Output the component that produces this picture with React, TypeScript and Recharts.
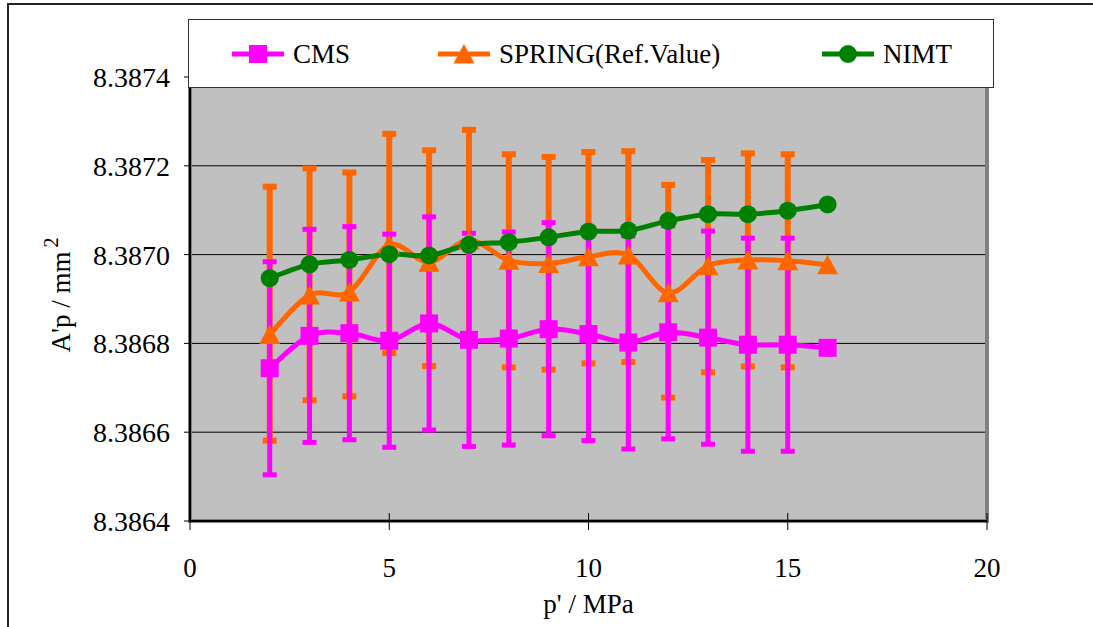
import React, { useEffect, useState } from 'react';
import { LineChart, Line, XAxis, YAxis, CartesianGrid, ErrorBar, Legend, ReferenceArea } from 'recharts';

// ---------- data ----------
const pressures = [2, 3, 4, 5, 6, 7, 8, 9, 10, 11, 12, 13, 14, 15, 16];

const cmsValues = [
  8.386744, 8.386817, 8.386823, 8.386806, 8.386845, 8.386808, 8.386811, 8.386832,
  8.386821, 8.386802, 8.386825, 8.386813, 8.386797, 8.386797, 8.386790,
];
const cmsErrors = [
  0.00024, 0.00024, 0.00024, 0.00024, 0.00024, 0.00024, 0.00024, 0.00024,
  0.00024, 0.00024, 0.00024, 0.00024, 0.00024, 0.00024, null,
];

const springValues = [
  8.38682, 8.386909, 8.386916, 8.387022, 8.386983, 8.387033, 8.386987, 8.38698,
  8.386995, 8.386999, 8.386914, 8.386975, 8.386988, 8.386986, 8.386977,
];
const springErrLow = [
  0.000239, 0.000237, 0.000235, 0.000244, 0.000234, 0.000236, 0.000241, 0.000239,
  0.00024, 0.000241, 0.000236, 0.00024, 0.00024, 0.00024, null,
];
const springErrHigh = [
  0.000333, 0.000285, 0.000269, 0.00025, 0.000252, 0.000248, 0.000239, 0.00024,
  0.000236, 0.000234, 0.000243, 0.000238, 0.00024, 0.00024, null,
];

const nimtValues = [
  8.386947, 8.386978, 8.386988, 8.387001, 8.386998, 8.387022, 8.387028, 8.387039,
  8.387052, 8.387054, 8.387076, 8.387091, 8.387091, 8.387099, 8.387113,
];

const seriesNames = ['CMS', 'SPRING(Ref.Value)', 'NIMT'];
const seriesColors = ['#FF00FF', '#FF6600', '#008000'];

const xDomain = [0, 20];
const xTicks = [0, 5, 10, 15, 20];
const yDomain = [8.3864, 8.3874];
const yTicks = [8.3864, 8.3866, 8.3868, 8.387, 8.3872, 8.3874];

const xTitle = "p' / MPa";
const yTitle = "A'p / mm";
const yTitleSup = '2';

const data = pressures.map((p, i) => ({
  p,
  cms: cmsValues[i],
  cmsErr: cmsErrors[i] == null ? undefined : cmsErrors[i],
  spring: springValues[i],
  springErr: springErrLow[i] == null ? undefined : [springErrLow[i], springErrHigh[i]],
  nimt: nimtValues[i],
}));

const SERIF = '"Liberation Serif", serif';

// Excel-like smoothed curve (cubic Bezier with 1/6 tension)
function excelCurve(context: any) {
  let pts: number[][] = [];
  return {
    areaStart() {},
    areaEnd() {},
    lineStart() {
      pts = [];
    },
    lineEnd() {
      const n = pts.length;
      if (n === 0) return;
      context.moveTo(pts[0][0], pts[0][1]);
      for (let i = 0; i < n - 1; i++) {
        const p0 = pts[i - 1] || pts[i];
        const p1 = pts[i];
        const p2 = pts[i + 1];
        const p3 = pts[i + 2] || p2;
        context.bezierCurveTo(
          p1[0] + (p2[0] - p0[0]) / 6,
          p1[1] + (p2[1] - p0[1]) / 6,
          p2[0] - (p3[0] - p1[0]) / 6,
          p2[1] - (p3[1] - p1[1]) / 6,
          p2[0],
          p2[1]
        );
      }
    },
    point(x: number, y: number) {
      pts.push([+x, +y]);
    },
  };
}

// ---------- markers ----------
const SquareDot = (props: any) => {
  const { cx, cy, index } = props;
  if (cx == null || cy == null) return <g key={`sq-${index}`} />;
  return <rect key={`sq-${index}`} x={cx - 9} y={cy - 9} width={18} height={18} fill={seriesColors[0]} />;
};
const TriangleDot = (props: any) => {
  const { cx, cy, index } = props;
  if (cx == null || cy == null) return <g key={`tr-${index}`} />;
  return (
    <polygon
      key={`tr-${index}`}
      points={`${cx},${cy - 10} ${cx - 10.5},${cy + 9.5} ${cx + 10.5},${cy + 9.5}`}
      fill={seriesColors[1]}
    />
  );
};
const CircleDot = (props: any) => {
  const { cx, cy, index } = props;
  if (cx == null || cy == null) return <g key={`ci-${index}`} />;
  return <circle key={`ci-${index}`} cx={cx} cy={cy} r={9} fill={seriesColors[2]} />;
};

// ---------- ticks / labels ----------
const XTick = (props: any) => {
  const { x, y, payload } = props;
  return (
    <g>
      <line x1={x} y1={y - 8} x2={x} y2={y + 9} stroke="#000" strokeWidth={1} />
      <text x={x} y={y + 56} textAnchor="middle" fill="#000" fontSize={27} fontFamily={SERIF}>
        {payload.value}
      </text>
    </g>
  );
};

const YTitle = (props: any) => {
  const vb = props.viewBox || {};
  const cy = vb.y + vb.height / 2 - 4;
  const bx = 70;
  return (
    <text
      transform={`rotate(-90, ${bx}, ${cy})`}
      x={bx}
      y={cy}
      textAnchor="middle"
      fill="#000"
      fontSize={27}
      fontFamily={SERIF}
    >
      {yTitle}
      <tspan dx={4} dy={-12} fontSize={20}>
        {yTitleSup}
      </tspan>
    </text>
  );
};

const XTitle = (props: any) => {
  const vb = props.viewBox || {};
  const cx = vb.x + vb.width / 2;
  return (
    <text x={cx} y={613} textAnchor="middle" fill="#000" fontSize={27} fontFamily={SERIF}>
      {xTitle}
    </text>
  );
};

const LegendIcon = ({ idx }: { idx: number }) => {
  const c = seriesColors[idx];
  return (
    <svg width={56} height={24} style={{ display: 'block' }}>
      <line x1={2} y1={12} x2={54} y2={12} stroke={c} strokeWidth={5} />
      {idx === 0 && <rect x={19} y={3} width={18} height={18} fill={c} />}
      {idx === 1 && <polygon points={`28,2 17.5,21.5 38.5,21.5`} fill={c} />}
      {idx === 2 && <circle cx={28} cy={12} r={9} fill={c} />}
    </svg>
  );
};

const legendIconLeft = [229, 435, 819];

const LegendBox = () => (
  <div
    style={{
      position: 'relative',
      width: 806,
      height: 69,
      boxSizing: 'border-box',
      background: '#fff',
      border: '1px solid #333',
      fontFamily: SERIF,
      fontSize: 27,
      color: '#000',
    }}
  >
    {seriesNames.map((name, i) => (
      <div
        key={name}
        style={{
          position: 'absolute',
          left: legendIconLeft[i] - 188,
          top: 22,
          display: 'flex',
          alignItems: 'center',
          whiteSpace: 'nowrap',
          lineHeight: '24px',
        }}
      >
        <LegendIcon idx={i} />
        <span style={{ marginLeft: 7 }}>{name}</span>
      </div>
    ))}
  </div>
);

export default function App() {
  const [pass, setPass] = useState(0);
  useEffect(() => {
    const t = setTimeout(() => setPass(1), 250);
    return () => clearTimeout(t);
  }, []);
  return (
    <div
      style={{
        position: 'absolute',
        left: 0,
        top: 0,
        width: 1093,
        height: 627,
        background: '#fff',
        overflow: 'hidden',
        fontFamily: SERIF,
      }}
    >
      <div
        style={{
          position: 'absolute',
          left: 7,
          top: 3,
          width: 1200,
          height: 700,
          borderTop: '2px solid #222',
          borderLeft: '2px solid #222',
        }}
      />
      <div style={{ position: 'absolute', left: 0, top: 0, fontFamily: SERIF }}>
        <LineChart
          key={`chart-${pass}`}
          width={1093}
          height={627}
          data={data}
          margin={{ top: 77, right: 106, bottom: 76, left: 110 }}
          style={{ fontFamily: SERIF }}
        >
          <CartesianGrid vertical={false} stroke="#000" strokeWidth={1} fill="#C0C0C0" fillOpacity={1} />
          <ReferenceArea
            x1={xDomain[0]}
            x2={xDomain[1]}
            y1={yDomain[0]}
            y2={yDomain[1]}
            fill="none"
            stroke="#808080"
            strokeWidth={4}
            ifOverflow="visible"
          />
          <XAxis
            dataKey="p"
            type="number"
            domain={xDomain}
            ticks={xTicks}
            height={30}
            tickSize={0}
            tickMargin={0}
            tickLine={false}
            tick={<XTick />}
            axisLine={{ stroke: '#000', strokeWidth: 2 }}
            label={<XTitle />}
            allowDataOverflow
          />
          <YAxis
            type="number"
            domain={yDomain}
            ticks={yTicks}
            width={80}
            tickSize={6}
            tickMargin={14}
            tickFormatter={(v: number) => v.toFixed(4)}
            tick={{ fill: '#000', fontSize: 28, fontFamily: SERIF }}
            tickLine={{ stroke: '#000' }}
            axisLine={{ stroke: '#000', strokeWidth: 2 }}
            label={<YTitle />}
            allowDataOverflow
          />
          <Legend
            layout="horizontal"
            verticalAlign="middle"
            align="center"
            content={() => <LegendBox />}
            wrapperStyle={{ left: 188, top: 19, width: 806, height: 69 }}
          />
          <Line
            dataKey="spring"
            name={seriesNames[1]}
            type={excelCurve as any}
            stroke={seriesColors[1]}
            strokeWidth={5}
            dot={TriangleDot}
            activeDot={false}
            isAnimationActive={false}
          >
            <ErrorBar dataKey="springErr" direction="y" width={7} stroke={seriesColors[1]} strokeWidth={6} isAnimationActive={false} />
          </Line>
          <Line
            dataKey="cms"
            name={seriesNames[0]}
            type={excelCurve as any}
            stroke={seriesColors[0]}
            strokeWidth={5}
            dot={SquareDot}
            activeDot={false}
            isAnimationActive={false}
          >
            <ErrorBar dataKey="cmsErr" direction="y" width={7} stroke={seriesColors[0]} strokeWidth={5} isAnimationActive={false} />
          </Line>
          <Line
            dataKey="nimt"
            name={seriesNames[2]}
            type={excelCurve as any}
            stroke={seriesColors[2]}
            strokeWidth={5}
            dot={CircleDot}
            activeDot={false}
            isAnimationActive={false}
          />
        </LineChart>
      </div>
    </div>
  );
}
